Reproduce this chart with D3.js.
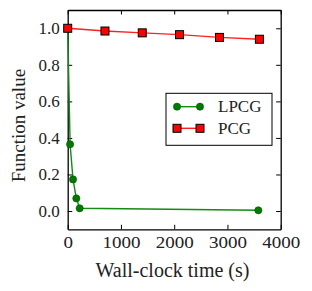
<!DOCTYPE html>
<html>
<head>
<meta charset="utf-8">
<script src="https://cdn.jsdelivr.net/npm/d3@7"></script>
<style>
body { margin: 0; background: #fff; }
text { font-family: "Liberation Serif", "DejaVu Serif", serif; fill: #222; }
.axis path, .axis line { stroke: #000; }
</style>
</head>
<body>
<div id="chart"></div>
<script>
// values
var lpcgTime  = [0, 45, 100, 162, 225, 3580];
var lpcgValue = [1.0, 0.365, 0.173, 0.069, 0.015, 0.004];
var pcgTime   = [0, 700, 1400, 2100, 2850, 3600];
var pcgValue  = [1.0, 0.985, 0.975, 0.965, 0.95, 0.94];
var xTicks = [0, 1000, 2000, 3000, 4000];
var yTicks = [0.0, 0.2, 0.4, 0.6, 0.8, 1.0];

var W = 312, H = 291;
var margin = {top: 10, right: 31.3, bottom: 61.7, left: 67.7},
    width = W - margin.left - margin.right,
    height = H - margin.top - margin.bottom;

var svg = d3.select("#chart").append("svg")
  .attr("width", W)
  .attr("height", H);

var g = svg.append("g")
  .attr("transform", "translate(" + margin.left + "," + margin.top + ")");

var x = d3.scaleLinear().domain([0, 4000]).range([0, width]);
var y = d3.scaleLinear().domain([-0.1, 1.1]).range([height, 0]);

var fs = "17px";

// axes, ticks pointing inward
g.append("g").attr("class", "axis")
  .attr("transform", "translate(0," + height + ")")
  .call(d3.axisBottom(x).tickValues(xTicks).tickSizeInner(-4.5).tickSizeOuter(0).tickPadding(7).tickFormat(d3.format("d")))
  .call(s => s.selectAll("text").style("font-size", fs).attr("transform", "scale(1.12,1)"));

g.append("g").attr("class", "axis")
  .call(d3.axisTop(x).tickValues(xTicks).tickSizeInner(-4.5).tickSizeOuter(0).tickFormat(""));

g.append("g").attr("class", "axis")
  .call(d3.axisLeft(y).tickValues(yTicks).tickSizeInner(-4.5).tickSizeOuter(0).tickPadding(8).tickFormat(d3.format(".1f")))
  .call(s => s.selectAll("text").style("font-size", fs));

g.append("g").attr("class", "axis")
  .attr("transform", "translate(" + width + ",0)")
  .call(d3.axisRight(y).tickValues(yTicks).tickSizeInner(-4.5).tickSizeOuter(0).tickFormat(""));

g.selectAll(".axis path").style("stroke-width", 1.3);
g.selectAll(".axis line").style("stroke-width", 1);

// series
var lpcg = lpcgTime.map(function(t, i) { return {t: t, v: lpcgValue[i]}; });
var pcg  = pcgTime.map(function(t, i) { return {t: t, v: pcgValue[i]}; });

var line = d3.line().x(d => x(d.t)).y(d => y(d.v));

g.append("path").datum(lpcg)
  .attr("d", line).attr("fill", "none")
  .attr("stroke", "#138a13").attr("stroke-width", 1.4);

g.selectAll(".lp").data(lpcg).enter().append("circle")
  .attr("cx", d => x(d.t)).attr("cy", d => y(d.v)).attr("r", 3.6)
  .attr("fill", "#007a00").attr("stroke", "#005a00").attr("stroke-width", 0.6);

g.append("path").datum(pcg)
  .attr("d", line).attr("fill", "none")
  .attr("stroke", "#ff2020").attr("stroke-width", 1.4);

var sq = 8;
g.selectAll(".pc").data(pcg).enter().append("rect")
  .attr("x", d => x(d.t) - sq / 2).attr("y", d => y(d.v) - sq / 2)
  .attr("width", sq).attr("height", sq)
  .attr("fill", "#ff0000").attr("stroke", "#000").attr("stroke-width", 1);

// legend
var legend = svg.append("g");
legend.append("rect")
  .attr("x", 166).attr("y", 93.3).attr("width", 106).attr("height", 52)
  .attr("fill", "#fff").attr("stroke", "#000").attr("stroke-width", 1);

var entries = [
  {name: "LPCG", y: 106.7, type: "circle"},
  {name: "PCG",  y: 128.3, type: "square"}
];
entries.forEach(function(e) {
  legend.append("line").attr("x1", 177).attr("x2", 200).attr("y1", e.y).attr("y2", e.y)
    .attr("stroke", e.type == "circle" ? "#138a13" : "#ff2020").attr("stroke-width", 1.4);
  [177, 200].forEach(function(px) {
    if (e.type == "circle") {
      legend.append("circle").attr("cx", px).attr("cy", e.y).attr("r", 3.6)
        .attr("fill", "#007a00").attr("stroke", "#005a00").attr("stroke-width", 0.6);
    } else {
      legend.append("rect").attr("x", px - sq / 2).attr("y", e.y - sq / 2).attr("width", sq).attr("height", sq)
        .attr("fill", "#ff0000").attr("stroke", "#000").attr("stroke-width", 1);
    }
  });
  legend.append("text").attr("x", 218).attr("y", e.y + 5.5)
    .style("font-size", fs).text(e.name);
});

// axis labels
svg.append("text")
  .attr("x", 172.5).attr("y", 277)
  .attr("text-anchor", "middle").style("font-size", "20px")
  .text("Wall-clock time (s)");

svg.append("text")
  .attr("transform", "translate(25," + (margin.top + height / 2 + 6) + ") rotate(-90)")
  .attr("text-anchor", "middle").style("font-size", "19px")
  .text("Function value");
</script>
</body>
</html>
